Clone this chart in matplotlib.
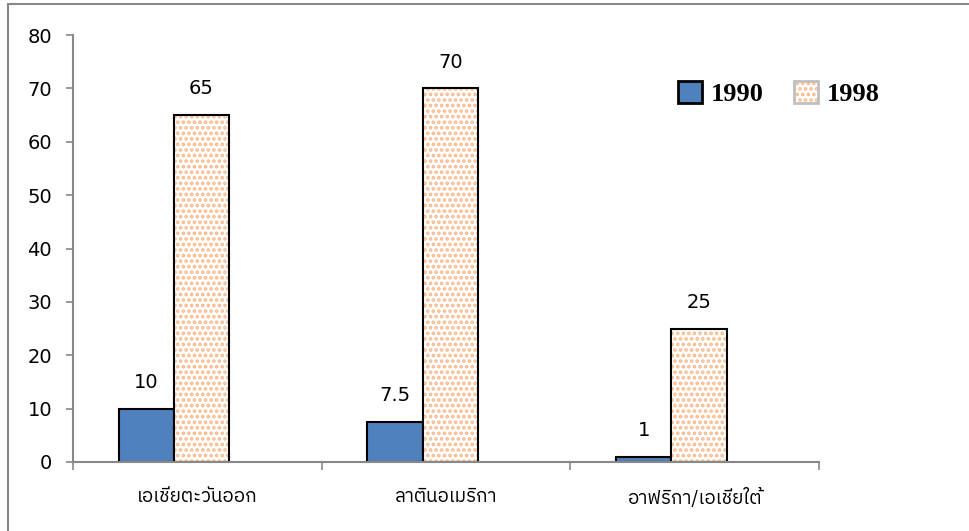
import numpy as np
import matplotlib.pyplot as plt
from matplotlib import font_manager
from matplotlib.patches import Rectangle, Patch
from matplotlib.legend_handler import HandlerBase

# Data
regions = ['เอเชียตะวันออก', 'ลาตินอเมริกา', 'อาฟริกา/เอเชียใต้']
v1990 = [10, 7.5, 1]
v1998 = [65, 70, 25]
lab1990 = ['10', '7.5', '1']
lab1998 = ['65', '70', '25']
yticks = [0, 10, 20, 30, 40, 50, 60, 70, 80]

# pick a family that has Thai glyphs if there is one
names = sorted({f.name for f in font_manager.fontManager.ttflist})
thai = [n for n in names if 'Thai' in n or n in ('Loma', 'Garuda', 'Norasi', 'Kinnari', 'Sawasdee', 'Waree', 'Umpush')]
plt.rcParams['font.family'] = thai + ['DejaVu Sans']
plt.rcParams['hatch.linewidth'] = 1.8

dot = '#F9B98A'


class HatchBox(HandlerBase):
    # dotted box with a light grey frame for the 1998 legend entry
    def create_artists(self, legend, orig, xd, yd, width, height, fontsize, trans):
        r1 = Rectangle((-xd, -yd), width, height, facecolor='white', edgecolor=dot,
                       hatch='...', lw=0, transform=trans)
        r2 = Rectangle((-xd, -yd), width, height, fill=False, edgecolor='#C0C0C0',
                       lw=2, transform=trans)
        return [r1, r2]


fig = plt.figure(figsize=(9.69, 5.31), dpi=100)
ax = fig.add_axes([0.0753, 0.130, 0.770, 0.804])

x = np.arange(len(regions))
w = 0.222
b1 = ax.bar(x - 0.205, v1990, w, color='#4F81BD', edgecolor='black', lw=1.5)
b2 = ax.bar(x + 0.017, v1998, w, color='white', edgecolor=dot, hatch='...', lw=0)
ax.bar(x + 0.017, v1998, w, fill=False, edgecolor='black', lw=1.5)

ax.bar_label(b1, labels=lab1990, padding=12, fontsize=14, family='DejaVu Sans')
ax.bar_label(b2, labels=lab1998, padding=12, fontsize=14, family='DejaVu Sans')

ax.set_xlim(-0.5, 2.5)
ax.set_ylim(0, 80)
ax.set_yticks(yticks)
ax.set_xticks(x)
ax.set_xticklabels(regions, fontsize=13.5)
ax.set_xticks([-0.5, 0.5, 1.5, 2.5], minor=True)
ax.tick_params(axis='x', which='major', length=0, pad=19)
ax.tick_params(axis='x', which='minor', length=6, width=1.2, color='#888888')
ax.tick_params(axis='y', length=5, width=1.2, color='#888888', labelsize=14, pad=10)
for lab in ax.get_yticklabels():
    lab.set_family('DejaVu Sans')
for s in ['top', 'right']:
    ax.spines[s].set_visible(False)
for s in ['left', 'bottom']:
    ax.spines[s].set_color('#888888')
    ax.spines[s].set_linewidth(1.5)

# legend handles
h1 = Patch(facecolor='#4F81BD', edgecolor='black', lw=2)
h2 = Patch(facecolor='white')
ax.legend(handles=[h1, h2], labels=['1990', '1998'], ncol=2, frameon=False,
          loc='center left', bbox_to_anchor=(0.793, 0.862), handlelength=0.9,
          handleheight=0.9, columnspacing=1.15, handletextpad=0.35, borderpad=0,
          handler_map={h2: HatchBox()},
          prop={'family': 'Liberation Serif', 'weight': 'bold', 'size': 19})

# outer border (only top and left edges show)
fig.patches.append(Rectangle((8/969, -0.1), 1.2, 1.1 - 4/531, transform=fig.transFigure,
                             fill=False, edgecolor='#888888', lw=1.5))

fig.savefig('out.png', dpi=100)
